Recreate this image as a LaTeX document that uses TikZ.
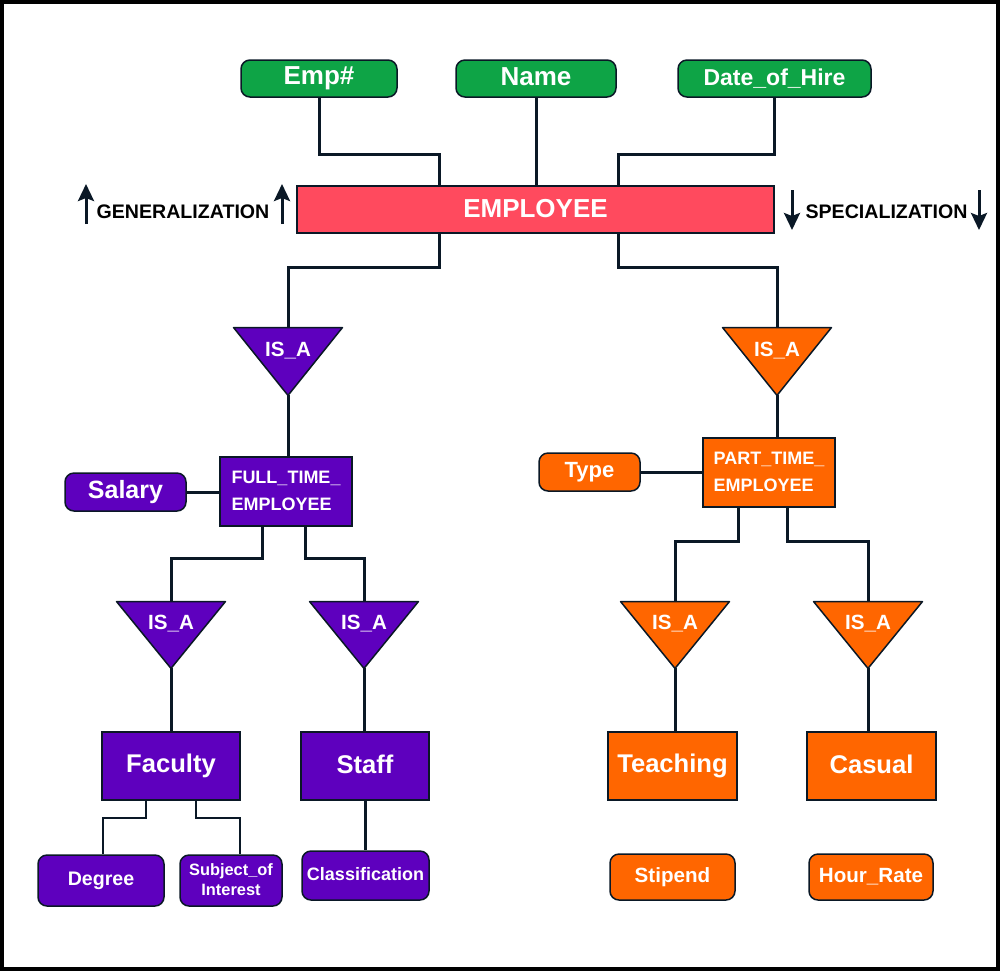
\documentclass[tikz,border=0pt]{standalone}
\usepackage{fontspec}
\setmainfont{Liberation Sans}
\usetikzlibrary{arrows.meta,backgrounds}

\definecolor{attrgreen}{RGB}{14,164,70}
\definecolor{empred}{RGB}{255,74,94}
\definecolor{fpurple}{RGB}{94,0,190}
\definecolor{porange}{RGB}{255,102,0}
\definecolor{linec}{RGB}{10,24,38}

\begin{document}
\begin{tikzpicture}[x=0.5pt,y=-0.5pt,
  box/.style={draw=linec, line width=0.75pt, text=white, inner sep=0pt, align=center,
    execute at begin node={\vphantom{A}\vrule depth 0.12em width 0pt height 0pt}},
  ent/.style={box, fill=#1},
  attr/.style={box, fill=#1, rounded corners=4.5pt},
  isa/.style={inner sep=0pt, minimum width=54pt, minimum height=#1,
    label={[text=white, font=\bfseries\fontsize{10.3}{12}\selectfont, yshift=5.5pt]center:IS\_A}},
  link/.style={draw=linec, line width=1.5pt},
  thinlink/.style={draw=linec, line width=1pt},
  dirarrow/.style={draw=linec, line width=1.5pt, -{Stealth[length=8.5pt,width=8pt,inset=1.5pt]}},
  dirtext/.style={font=\bfseries\fontsize{9.8}{11}\selectfont, inner sep=0pt}
]
  \useasboundingbox (0,0) rectangle (1000,971);
  \draw[black, line width=2pt] (2,2) rectangle (998,969);

%attributes of EMPLOYEE
  \node[attr=attrgreen, minimum width=78pt, minimum height=18.5pt, font=\bfseries\fontsize{13}{15}\selectfont] (emp) at (319,78.5) {Emp\#};
  \node[attr=attrgreen, minimum width=80pt, minimum height=18.5pt, font=\bfseries\fontsize{13}{15}\selectfont] (name) at (536,78.5) {Name};
  \node[attr=attrgreen, minimum width=96.5pt, minimum height=18.5pt, font=\bfseries\fontsize{11.5}{13}\selectfont] (date) at (774.5,78.5) {Date\_of\_Hire};

%EMPLOYEE
  \node[ent=empred, minimum width=238.5pt, minimum height=23.5pt, font=\bfseries\fontsize{13}{15}\selectfont] (employee) at (535.5,209.5) {EMPLOYEE};
  \node[dirtext] (gen) at (183,212) {GENERALIZATION};
  \node[dirtext] (spec) at (886.5,212) {SPECIALIZATION};
  \coordinate (genA) at (86,224);
  \coordinate (genB) at (282,224);
  \coordinate (specA) at (792,190);
  \coordinate (specB) at (979,190);
  \draw[dirarrow] (genA) -- ++(0,-40);
  \draw[dirarrow] (genB) -- ++(0,-40);
  \draw[dirarrow] (specA) -- ++(0,40);
  \draw[dirarrow] (specB) -- ++(0,40);

%IS_A level 1
  \node[isa=33.5pt] (isaL) at (288,361.5) {};
  \node[isa=33.5pt] (isaR) at (777,361.5) {};

%FULL_TIME_EMPLOYEE
  \node[ent=fpurple, minimum width=66pt, minimum height=34.5pt, align=left, font=\bfseries\fontsize{9}{13.5}\selectfont] (ftE) at (286,491.5) {FULL\_TIME\_\\EMPLOYEE};
  \node[attr=fpurple, minimum width=60.5pt, minimum height=19pt, font=\bfseries\fontsize{12.5}{14}\selectfont] (salary) at (125.5,492) {Salary};

%PART_TIME_EMPLOYEE
  \node[ent=porange, minimum width=66pt, minimum height=34.5pt, align=left, font=\bfseries\fontsize{9}{13.5}\selectfont] (ptE) at (769,472.5) {PART\_TIME\_\\EMPLOYEE};
  \node[attr=porange, minimum width=50.5pt, minimum height=19pt, font=\bfseries\fontsize{11}{13}\selectfont] (type) at (589.5,472) {Type};

%IS_A level 2
  \node[isa=33pt] (isaFac) at (171,635) {};
  \node[isa=33pt] (isaStf) at (364,635) {};
  \node[isa=33pt] (isaTch) at (675,635) {};
  \node[isa=33pt] (isaCas) at (868,635) {};

%subclasses
  \node[ent=fpurple, minimum width=69pt, minimum height=34pt, font=\bfseries\fontsize{12.8}{15}\selectfont] (faculty) at (171,766) {Faculty};
  \node[ent=fpurple, minimum width=64pt, minimum height=34pt, font=\bfseries\fontsize{12.8}{15}\selectfont] (staff) at (365,766) {Staff};
  \node[ent=porange, minimum width=64.5pt, minimum height=34pt, font=\bfseries\fontsize{12.8}{15}\selectfont] (teaching) at (672.5,766) {Teaching};
  \node[ent=porange, minimum width=64.5pt, minimum height=34pt, font=\bfseries\fontsize{12.8}{15}\selectfont] (casual) at (871.5,766) {Casual};

%attributes of subclasses
  \node[attr=fpurple, minimum width=63pt, minimum height=25.5pt, font=\bfseries\fontsize{9.8}{12}\selectfont] (degree) at (101,880.5) {Degree};
  \node[attr=fpurple, minimum width=51pt, minimum height=25.5pt, font=\bfseries\fontsize{8.2}{10}\selectfont] (subject) at (231,880.5) {Subject\_of\\Interest};
  \node[attr=fpurple, minimum width=63.5pt, minimum height=24.5pt, font=\bfseries\fontsize{9}{11}\selectfont] (classif) at (365.5,875.5) {Classification};
  \node[attr=porange, minimum width=62.5pt, minimum height=23pt, font=\bfseries\fontsize{10.3}{12}\selectfont] (stipend) at (672.5,877) {Stipend};
  \node[attr=porange, minimum width=62pt, minimum height=23pt, font=\bfseries\fontsize{10.3}{12}\selectfont] (hour) at (871,877) {Hour\_Rate};

%triangles
  \begin{scope}[on background layer]
    \foreach \t/\c in {isaL/fpurple, isaR/porange, isaFac/fpurple, isaStf/fpurple, isaTch/porange, isaCas/porange}
      \filldraw[fill=\c, draw=linec, line width=0.75pt, line join=round] (\t.north west) -- (\t.north east) -- (\t.south) -- cycle;
  \end{scope}

%bends
  \coordinate (empJ) at (439,154);
  \coordinate (dateJ) at (618,154);
  \coordinate (genJ) at (439,267);
  \coordinate (specJ) at (618,267);
  \coordinate (facJ) at (262,558);
  \coordinate (stfJ) at (305,558);
  \coordinate (tchJ) at (738,541);
  \coordinate (casJ) at (787,541);
  \coordinate (degA) at (146,818);
  \coordinate (degB) at (103,818);
  \coordinate (subA) at (196,818);
  \coordinate (subB) at (240,818);

%connectors
  \draw[link] (emp.south) |- (empJ) -- (employee.north -| empJ);
  \draw[link] (name.south) -- (name.south |- employee.north);
  \draw[link] (date.south) |- (dateJ) -- (employee.north -| dateJ);
  \draw[link] (employee.south -| genJ) -- (genJ) -| (isaL.north);
  \draw[link] (employee.south -| specJ) -- (specJ) -| (isaR.north);
  \draw[link] (isaL.south) -- (isaL.south |- ftE.north);
  \draw[link] (isaR.south) -- (isaR.south |- ptE.north);
  \draw[link] (salary.east) -- (salary.east -| ftE.west);
  \draw[link] (type.east) -- (type.east -| ptE.west);
  \draw[link] (ftE.south -| facJ) -- (facJ) -| (isaFac.north);
  \draw[link] (ftE.south -| stfJ) -- (stfJ) -| (isaStf.north);
  \draw[link] (ptE.south -| tchJ) -- (tchJ) -| (isaTch.north);
  \draw[link] (ptE.south -| casJ) -- (casJ) -| (isaCas.north);
  \draw[link] (isaFac.south) -- (faculty.north);
  \draw[link] (isaStf.south) -- (isaStf.south |- staff.north);
  \draw[link] (isaTch.south) -- (isaTch.south |- teaching.north);
  \draw[link] (isaCas.south) -- (isaCas.south |- casual.north);
  \draw[link] (staff.south) -- (staff.south |- classif.north);
  \draw[thinlink] (faculty.south -| degA) -- (degA) -- (degB) -- (degree.north -| degB);
  \draw[thinlink] (faculty.south -| subA) -- (subA) -- (subB) -- (subject.north -| subB);

\end{tikzpicture}
\end{document}
